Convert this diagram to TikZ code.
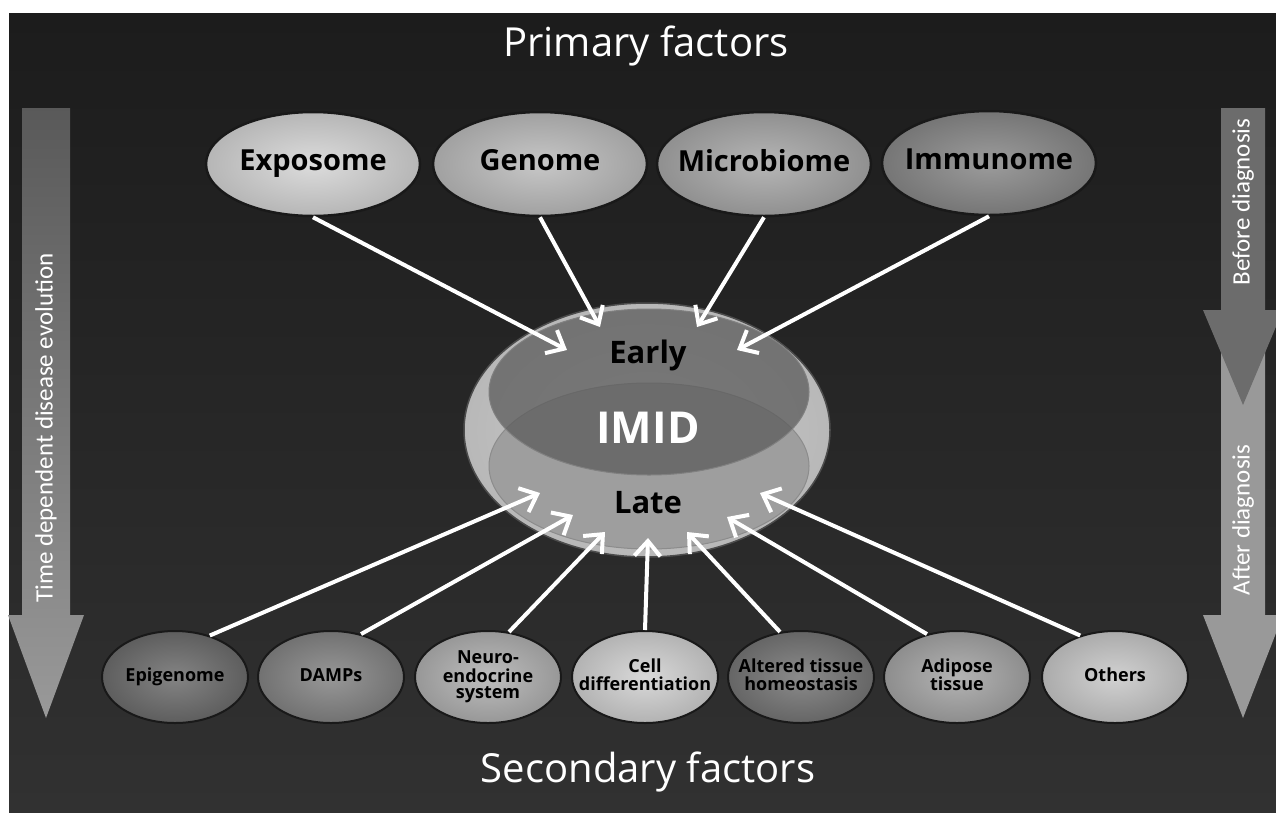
\documentclass[tikz,border=0pt]{standalone}
\usepackage{fontspec}
\setmainfont{Open Sans}
\newfontfamily\sidefont{Carlito}
\usetikzlibrary{shapes.geometric,arrows.meta}

\definecolor{bgtop}{HTML}{1C1C1C}
\definecolor{bgbot}{HTML}{313131}
\definecolor{cExpo}{HTML}{D6D6D6}
\definecolor{cGeno}{HTML}{BDBDBD}
\definecolor{cMicro}{HTML}{A9A9A9}
\definecolor{cImmu}{HTML}{8A8A8A}
\definecolor{cEpi}{HTML}{6E6E6E}
\definecolor{cDamp}{HTML}{858585}
\definecolor{cNeuro}{HTML}{B2B2B2}
\definecolor{cCell}{HTML}{D2D2D2}
\definecolor{cAlt}{HTML}{777777}
\definecolor{cAdip}{HTML}{A6A6A6}
\definecolor{cOth}{HTML}{C9C9C9}
\definecolor{cRing}{HTML}{B8B8B8}
\definecolor{cEarly}{HTML}{5C5C5C}
\definecolor{cLate}{HTML}{9E9E9E}
\definecolor{cBefore}{HTML}{6C6C6C}
\definecolor{cAfter}{HTML}{999999}

\renewcommand{\arraystretch}{0.8}
\newcommand{\lbl}[1]{\makebox[0pt]{\begin{tabular}{@{}c@{}}#1\end{tabular}}}

\begin{document}
\begin{tikzpicture}[x=1pt, y=-1pt,
  tone/.style={inner color=#1!85!white, outer color=#1!85!black},
  factor/.style={ellipse, draw=black!90, line width=2.5pt, inner sep=0pt,
    minimum width=214pt, minimum height=104pt,
    font=\bfseries\fontsize{29}{32}\selectfont},
  secondary/.style={factor, line width=2pt, minimum width=146pt, minimum height=92pt,
    font=\bfseries\fontsize{18}{19}\selectfont},
  title/.style={text=white, font=\fontsize{40}{44}\selectfont},
  sidelbl/.style={text=white, rotate=90, font=\sidefont\fontsize{25}{28}\selectfont},
  link/.style={draw=white, line width=4pt, -{Straight Barb[length=15pt,width=26pt]}}]

\useasboundingbox (0,0) rectangle (1276,812);

% background
\shade[top color=bgtop, bottom color=bgbot] (9,13) rectangle (1276,812);

\node[title] (prim) at (646,46) {Primary factors};
\node[title] (sec) at (648,772) {Secondary factors};

% time arrows at the sides
\shade[top color=black!65, bottom color=black!40] (22,108) -- (70,108) -- (70,615) -- (84,615)
  -- (46,718) -- (8,615) -- (22,615) -- cycle;
\node[sidelbl] (time) at (46,428) {Time dependent disease evolution};

\fill[cAfter] (1221,330) -- (1265,330) -- (1265,615) -- (1283,615)
  -- (1243,718) -- (1203,615) -- (1221,615) -- cycle;
\fill[cBefore] (1221,108) -- (1265,108) -- (1265,310) -- (1283,310)
  -- (1243,405) -- (1203,310) -- (1221,310) -- cycle;
\node[sidelbl] (before) at (1243,202) {Before diagnosis};
\node[sidelbl] (after) at (1243,520) {After diagnosis};

% primary factors
\node[factor, tone=cExpo] (expo) at (313,164) {\lbl{Exposome}};
\node[factor, tone=cGeno] (geno) at (540,164) {\lbl{Genome}};
\node[factor, tone=cMicro] (micro) at (764,164) {\lbl{Microbiome}};
\node[factor, tone=cImmu] (immu) at (989,163) {\lbl{Immunome}};

% IMID
\node[ellipse, draw=black!70, line width=1.5pt, inner color=cRing!70!white, outer color=cRing, minimum width=366pt, minimum height=254pt] (imid) at (647,430) {};
\node[ellipse, draw=black!45, line width=1pt, fill=cLate, minimum width=320pt, minimum height=166pt] (late) at (649,466) {};
\node[ellipse, draw=black!50, line width=1pt, fill=cEarly, fill opacity=0.75, minimum width=320pt, minimum height=166pt] (early) at (649,392) {};
\node[font=\fontsize{31}{34}\selectfont\bfseries] (tEarly) at (648,355) {Early};
\node[text=white, font=\fontsize{44}{48}\selectfont\bfseries] (tImid) at (648,428) {IMID};
\node[font=\fontsize{31}{34}\selectfont\bfseries] (tLate) at (648,503) {Late};

% secondary factors
\node[secondary, tone=cEpi] (epi) at (175,677) {\lbl{Epigenome}};
\node[secondary, tone=cDamp] (damp) at (331,677) {\lbl{DAMPs}};
\node[secondary, tone=cNeuro] (neuro) at (488,677) {\lbl{Neuro-\\endocrine\\system}};
\node[secondary, tone=cCell] (cell) at (645,677) {\lbl{Cell\\differentiation}};
\node[secondary, tone=cAlt] (alt) at (801,677) {\lbl{Altered tissue\\homeostasis}};
\node[secondary, tone=cAdip] (adip) at (957,677) {\lbl{Adipose\\tissue}};
\node[secondary, tone=cOth] (oth) at (1115,677) {\lbl{Others}};

% arrow tips inside IMID
\coordinate (aExpo) at (567,350);
\coordinate (aGeno) at (600,327);
\coordinate (aMicro) at (697,327);
\coordinate (aImmu) at (737,350);
\coordinate (aEpi) at (540,493);
\coordinate (aDamp) at (573,515);
\coordinate (aNeuro) at (605,532);
\coordinate (aCell) at (648,538);
\coordinate (aAlt) at (687,532);
\coordinate (aAdip) at (727,517);
\coordinate (aOth) at (760,493);

\draw[link] (expo.south) -- (aExpo);
\draw[link] (geno.south) -- (aGeno);
\draw[link] (micro.south) -- (aMicro);
\draw[link] (immu.south) -- (aImmu);

\draw[link] (epi.50) -- (aEpi);
\draw[link] (damp.55) -- (aDamp);
\draw[link] (neuro.65) -- (aNeuro);
\draw[link] (cell.north) -- (aCell);
\draw[link] (alt.115) -- (aAlt);
\draw[link] (adip.125) -- (aAdip);
\draw[link] (oth.130) -- (aOth);

\end{tikzpicture}
\end{document}
